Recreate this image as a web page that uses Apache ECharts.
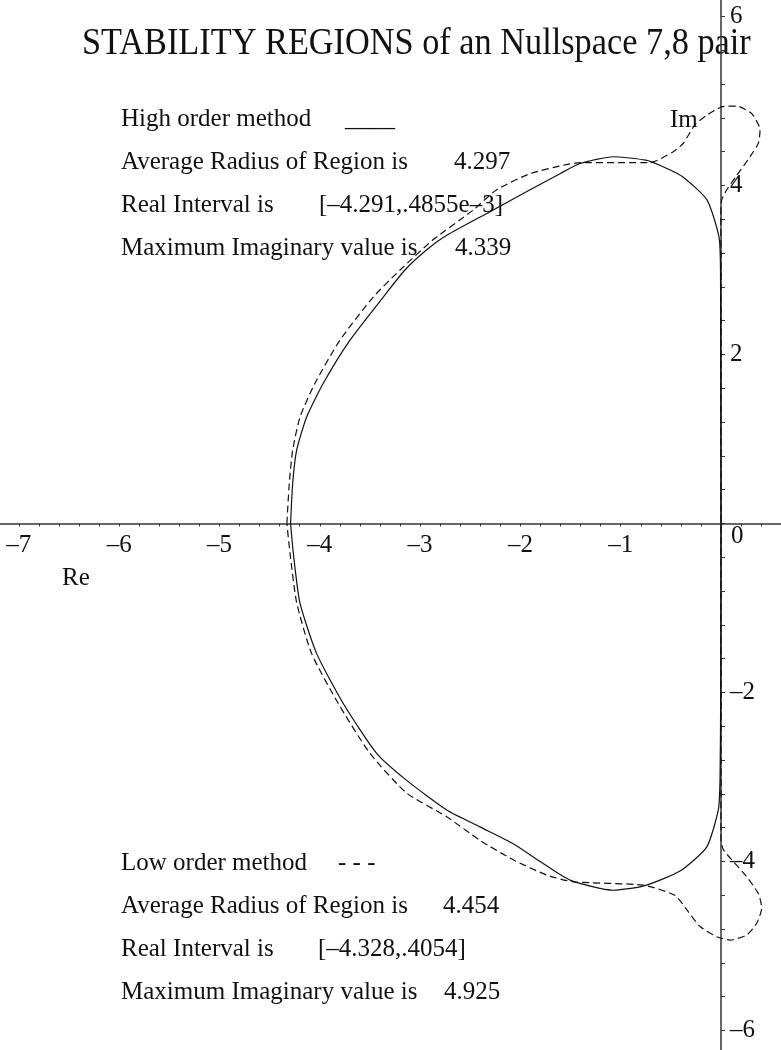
<!DOCTYPE html>
<html>
<head>
<meta charset="utf-8">
<script src="https://cdn.jsdelivr.net/npm/echarts@6/dist/echarts.min.js"></script>
<style>
  html, body { margin: 0; padding: 0; background: #fff; }
  #main { width: 781px; height: 1050px; }
</style>
</head>
<body>
<div id="main"></div>
<script>
// tick labels
const xLabels = [-7, -6, -5, -4, -3, -2, -1];
const yLabels = [-6, -4, -2, 2, 4, 6];

// boundary of the high order region (solid), [Re, Im] in path order
const highOrder = [
  [-4.291, 0.00], [-4.270, 0.48], [-4.230, 0.87], [-4.131, 1.26], [-3.965, 1.66],
  [-3.699, 2.17], [-3.367, 2.68], [-3.151, 3.00], [-2.934, 3.24], [-2.735, 3.41],
  [-2.303, 3.69], [-1.904, 3.95], [-1.605, 4.14], [-1.406, 4.26], [-1.074, 4.34],
  [-0.750, 4.30], [-0.610, 4.24], [-0.390, 4.11], [-0.140, 3.83], [-0.020, 3.39],
  [-0.005, 3.00], [-0.003, 2.00], [-0.001, 1.00], [0.000, 0.00], [-0.001, -1.00],
  [-0.003, -2.00], [-0.010, -3.04], [-0.027, -3.39], [-0.143, -3.83], [-0.392, -4.10],
  [-0.608, -4.22], [-0.808, -4.30], [-1.074, -4.34], [-1.505, -4.22], [-1.805, -4.00],
  [-2.071, -3.79], [-2.403, -3.59], [-2.735, -3.39], [-3.134, -3.04], [-3.433, -2.72],
  [-3.766, -2.13], [-4.031, -1.54], [-4.198, -0.94], [-4.264, -0.35], [-4.291, 0.00]
];

// boundary of the low order region (dashed)
const lowOrder = [
  [-4.328, 0.00], [-4.304, 0.48], [-4.270, 0.87], [-4.197, 1.26], [-4.048, 1.66],
  [-3.799, 2.17], [-3.467, 2.68], [-3.200, 3.00], [-2.868, 3.36], [-2.470, 3.71],
  [-2.236, 3.95], [-1.904, 4.14], [-1.572, 4.24], [-1.406, 4.27], [-0.708, 4.27],
  [-0.476, 4.40], [-0.376, 4.50], [-0.259, 4.72], [-0.143, 4.83], [0.007, 4.93],
  [0.157, 4.94], [0.306, 4.85], [0.389, 4.66], [0.372, 4.50], [0.289, 4.34],
  [0.157, 4.12], [0.057, 3.95], [0.007, 3.83], [-0.002, 3.65], [0.000, 3.00],
  [0.000, 2.00], [0.000, 1.00], [0.000, 0.00], [0.000, -1.00], [0.000, -2.00],
  [0.000, -3.00], [0.000, -3.75], [0.023, -3.86], [0.123, -4.00], [0.256, -4.18],
  [0.372, -4.38], [0.406, -4.55], [0.356, -4.73], [0.256, -4.87], [0.090, -4.93],
  [-0.043, -4.89], [-0.209, -4.77], [-0.342, -4.57], [-0.459, -4.40], [-0.775, -4.28],
  [-1.473, -4.24], [-1.738, -4.16], [-2.071, -3.98], [-2.403, -3.75], [-2.735, -3.47],
  [-3.134, -3.19], [-3.500, -2.72], [-3.816, -2.13], [-4.081, -1.54], [-4.230, -0.94],
  [-4.297, -0.35], [-4.328, 0.00]
];

// annotation texts
const highText = ['High order method', 'Average Radius of Region is', 'Real Interval is', 'Maximum Imaginary value is'];
const highVals = ['____', '4.297', '[\u20134.291,.4855e\u20133]', '4.339'];
const lowText = ['Low order method', 'Average Radius of Region is', 'Real Interval is', 'Maximum Imaginary value is'];
const lowVals = ['- - -', '4.454', '[\u20134.328,.4054]', '4.925'];

const FONT = '"Liberation Serif", "Times New Roman", serif';
const ink = '#111';

function pickLabel(list, v) {
  const hit = list.find(l => Math.abs(l - v) < 1e-6);
  return hit === undefined ? '' : String(hit).replace('-', '\u2013');
}

function txt(str, x, y, size, sy) {
  return {
    type: 'text', x: x, y: y, silent: true, scaleY: sy || 1,
    style: { text: str, fill: ink, font: size + 'px ' + FONT, verticalAlign: 'middle', align: 'left' }
  };
}

const graphics = [
  txt('STABILITY REGIONS of an Nullspace 7,8 pair', 82, 44, 34.3, 1.12),
  txt('Re', 62, 578, 25),
  txt('Im', 670, 120, 25),
  txt('0', 731, 536, 25)
];
const valX = [345, 454, 319, 455];
const lowValX = [338, 443, 318, 444];
highText.forEach((t, i) => {
  graphics.push(txt(t, 121, 119 + i * 43, 25));
  graphics.push(txt(highVals[i], valX[i], 119 + i * 43, 25));
});
lowText.forEach((t, i) => {
  graphics.push(txt(t, 121, 863 + i * 43, 25));
  graphics.push(txt(lowVals[i], lowValX[i], 863 + i * 43, 25));
});

// plot box runs a little past the canvas so that Re in [-7.2, 0.6], Im in [-6.4, 6.4]
// axes are pulled in to the origin with offset (labels follow, unlike onZero)
const chart = echarts.init(document.getElementById('main'), null, { renderer: 'canvas' });
const option = {
  animation: false,
  backgroundColor: '#fff',
  grid: { left: -1.2, right: -0.2, top: -17.3, bottom: -14.3, containLabel: false, outerBoundsMode: 'none' },
  xAxis: {
    type: 'value', min: -7.2, max: 0.6, interval: 0.2,
    position: 'bottom', offset: -540.8,
    axisLine: { onZero: false, lineStyle: { color: '#333', width: 1.5 } },
    axisTick: { show: true, length: 3, lineStyle: { color: '#333', width: 1 } },
    axisLabel: {
      interval: 0, margin: 9, color: ink, fontFamily: FONT, fontSize: 25,
      hideOverlap: false,
      formatter: v => pickLabel(xLabels, v)
    },
    splitLine: { show: false }
  },
  yAxis: {
    type: 'value', min: -6.4, max: 6.4, interval: 0.4,
    position: 'right', offset: -60.2,
    axisLine: { onZero: false, lineStyle: { color: '#333', width: 1.5 } },
    axisTick: { show: true, length: 4, lineStyle: { color: '#333', width: 1 } },
    axisLabel: {
      interval: 0, margin: 9, color: ink, fontFamily: FONT, fontSize: 25,
      padding: [5, 0, 0, 0], hideOverlap: false,
      formatter: v => pickLabel(yLabels, v)
    },
    splitLine: { show: false }
  },
  series: [
    {
      name: 'High order method', type: 'line', data: highOrder,
      showSymbol: false, smooth: 0.2, clip: false,
      lineStyle: { color: ink, width: 1.2, type: 'solid' }
    },
    {
      name: 'Low order method', type: 'line', data: lowOrder,
      showSymbol: false, smooth: 0.2, clip: false,
      lineStyle: { color: ink, width: 1.2, type: [7, 4] }
    }
  ],
  graphic: graphics
};
chart.setOption(option);
</script>
</body>
</html>
